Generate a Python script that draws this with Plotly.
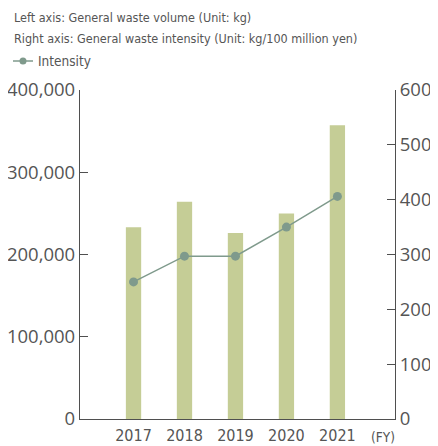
import plotly.graph_objects as go

years = ["2017", "2018", "2019", "2020", "2021"]
waste_kg = [233000, 264000, 226000, 250000, 357000]
intensity = [250, 297, 297, 350, 406]

left_ticks = [0, 100000, 200000, 300000, 400000]
left_tick_text = ["0", "100,000", "200,000", "300,000", "400,000"]
right_ticks = [0, 100, 200, 300, 400, 500, 600]

BAR = "#c5cd96"
LINE = "#7f9a8c"
AX = "#4f4f4f"
TXT = "#555555"
HEAD_FONT = "DejaVu Sans Condensed, sans-serif"
TICK_FONT = "Open Sans, Noto Sans, sans-serif"

# page is rendered with an 8px body margin; figure is sized so it ends at the window edge
OFF = 8
W, H = 438 - OFF, 446 - OFF
L, R, T, B = 80 - OFF, 43, 90 - OFF, 27
PW, PH = W - L - R, H - T - B


def px(x):
    """page x pixel -> paper coordinate"""
    return (x - OFF - L) / PW


def py(y):
    """page y pixel -> paper coordinate"""
    return (H - B - (y - OFF)) / PH


fig = go.Figure()
fig.add_trace(go.Bar(
    x=years, y=waste_kg, marker=dict(color=BAR, line=dict(width=0)),
    width=0.3, showlegend=False, yaxis="y", hoverinfo="skip", name="Volume",
))
fig.add_trace(go.Scatter(
    x=years, y=intensity, mode="lines+markers", name="Intensity",
    line=dict(color=LINE, width=1.5), marker=dict(color=LINE, size=9),
    yaxis="y2", showlegend=False,
))

head = dict(family=HEAD_FONT, size=12.5, color=TXT)

fig.update_layout(
    width=W, height=H,
    margin=dict(l=L, r=R, t=T, b=B, pad=0, autoexpand=False),
    plot_bgcolor="white", paper_bgcolor="white",
    showlegend=False,
    xaxis=dict(
        type="category", range=[-1.05, 5.13], showgrid=False, zeroline=False,
        showline=True, linecolor=AX, linewidth=1.2, ticks="",
        tickfont=dict(family=HEAD_FONT, size=16, color=TXT),
        ticklabelstandoff=2,
    ),
    yaxis=dict(
        range=[0, 400000], tickvals=left_ticks, ticktext=left_tick_text,
        showgrid=False, zeroline=False, showline=True, linecolor=AX, linewidth=1.2,
        ticks="inside", ticklen=8, tickcolor=AX, tickwidth=1.2,
        tickfont=dict(family=TICK_FONT, size=18.5, color=TXT),
    ),
    yaxis2=dict(
        range=[0, 600], tickvals=right_ticks, overlaying="y", side="right",
        showgrid=False, zeroline=False, showline=True, linecolor=AX, linewidth=1.2,
        ticks="inside", ticklen=8, tickcolor=AX, tickwidth=1.2,
        tickfont=dict(family=TICK_FONT, size=18.5, color=TXT),
    ),
    shapes=[
        dict(type="line", xref="paper", yref="paper",
             x0=px(13), x1=px(33), y0=py(61), y1=py(61),
             line=dict(color=LINE, width=1.5)),
        dict(type="circle", xref="paper", yref="paper",
             x0=px(19.5), x1=px(26.5), y0=py(64.5), y1=py(57.5),
             fillcolor=LINE, line=dict(width=0)),
    ],
    annotations=[
        dict(text="Left axis: General waste volume (Unit: kg)", xref="paper", yref="paper",
             x=px(12), y=py(17), xanchor="left", yanchor="middle", showarrow=False, font=head),
        dict(text="Right axis: General waste intensity (Unit: kg/100 million yen)", xref="paper", yref="paper",
             x=px(12), y=py(38), xanchor="left", yanchor="middle", showarrow=False, font=head),
        dict(text="Intensity", xref="paper", yref="paper",
             x=px(36), y=py(61), xanchor="left", yanchor="middle", showarrow=False,
             font=dict(family=HEAD_FONT, size=13.5, color=TXT)),
        dict(text="(FY)", xref="paper", yref="paper",
             x=px(382.5), y=py(437), xanchor="center", yanchor="middle", showarrow=False,
             font=dict(family=HEAD_FONT, size=13.5, color=TXT)),
    ],
)

fig.write_html("out.html")
